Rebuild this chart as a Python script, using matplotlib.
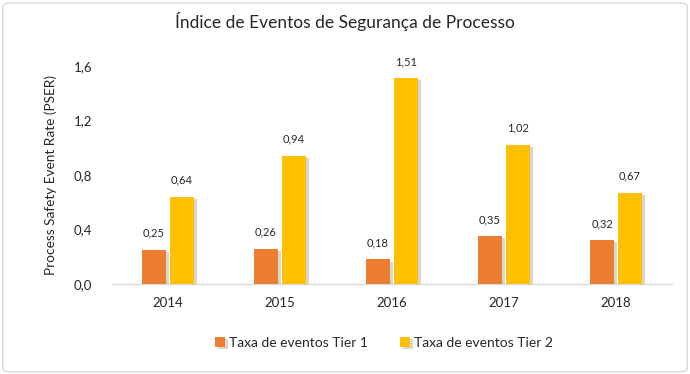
import numpy as np
import matplotlib
matplotlib.use("Agg")
import matplotlib.pyplot as plt
from matplotlib import patheffects as pe
from matplotlib.patches import FancyBboxPatch

plt.rcParams['font.family'] = ['Lato', 'DejaVu Sans']

years = ['2014', '2015', '2016', '2017', '2018']
tier1 = [0.25, 0.26, 0.18, 0.35, 0.32]
tier2 = [0.64, 0.94, 1.51, 1.02, 0.67]
series_names = ['Taxa de eventos Tier 1', 'Taxa de eventos Tier 2']

orange = '#ED7D31'
yellow = '#FFC000'
text_col = '#262626'

fig = plt.figure(figsize=(6.9, 3.74), dpi=100)
ax = fig.add_axes([0.162, 0.2406, 0.812, 0.583])

x = np.arange(len(years))
w = 0.214
shadow = [pe.SimplePatchShadow(offset=(2, -1.5), shadow_rgbFace='#9a9a9a', alpha=0.4), pe.Normal()]
b1 = ax.bar(x - w / 2 - 0.018, tier1, w, color=orange, label=series_names[0], path_effects=shadow, zorder=3)
b2 = ax.bar(x + w / 2 + 0.018, tier2, w, color=yellow, label=series_names[1], path_effects=shadow, zorder=3)

for bars, vals in ((b1, tier1), (b2, tier2)):
    for r, v in zip(bars, vals):
        ax.annotate(f'{v:.2f}'.replace('.', ','), (r.get_x() + r.get_width() / 2, v),
                    xytext=(0, 8), textcoords='offset points', ha='center', va='bottom',
                    fontsize=8, color=text_col)

ax.set_xlim(-0.5, 4.5)
ax.set_ylim(0, 1.6)
ax.set_yticks([0, 0.4, 0.8, 1.2, 1.6])
ax.set_yticklabels(['0,0', '0,4', '0,8', '1,2', '1,6'])
ax.set_xticks(x)
ax.set_xticklabels(years)
ax.tick_params(length=0, labelsize=9.5, colors=text_col)
ax.tick_params(axis='y', pad=14)
ax.tick_params(axis='x', pad=9)
for s in ('top', 'right', 'left'):
    ax.spines[s].set_visible(False)
ax.spines['bottom'].set_color('#d9d9d9')
ax.spines['bottom'].set_linewidth(1)
ax.set_ylabel('Process Safety Event Rate (PSER)', fontsize=9.8, color=text_col, labelpad=12)

fig.text(0.5, 0.942, 'Índice de Eventos de Segurança de Processo', ha='center', va='center',
         fontsize=12.5, color=text_col)

fig.legend(handles=[b1, b2], labels=series_names, loc='center', bbox_to_anchor=(0.557, 0.083),
           ncol=2, frameon=False, fontsize=10, handlelength=0.7, handleheight=0.7,
           handletextpad=0.3, columnspacing=2.3, labelcolor=text_col)

border = FancyBboxPatch((0.004, 0.006), 0.992, 0.986, boxstyle='round,pad=0,rounding_size=0.01',
                        transform=fig.transFigure, facecolor='none', edgecolor='#d9d9d9', linewidth=1)
fig.patches.append(border)

fig.savefig('out.png', dpi=100, facecolor='white')
